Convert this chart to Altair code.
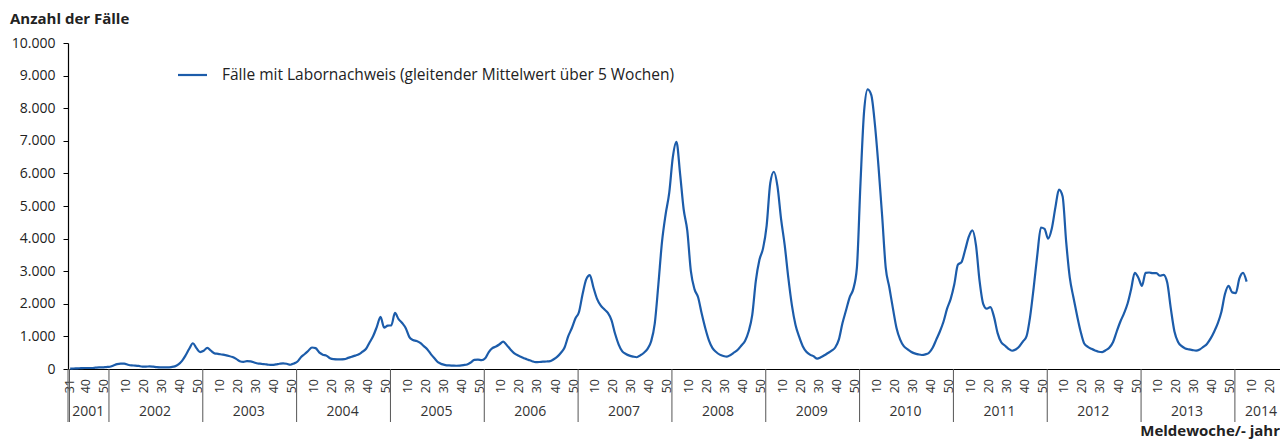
import altair as alt
import pandas as pd

# Weekly values (odd reporting weeks), cases with lab confirmation, 5-week moving average
weeks_2001 = [31, 33, 35, 37, 39, 41, 43, 45, 47, 49, 51]
y2001 = [10, 15, 20, 25, 30, 30, 30, 40, 50, 50, 60]
weeks_odd = list(range(1, 52, 2))
y2002 = [70, 110, 150, 165, 165, 130, 110, 105, 95, 75, 75, 80, 70, 55, 50, 50, 50, 60, 80, 140, 250, 420, 620, 790, 640, 520]
y2003 = [560, 650, 560, 480, 465, 445, 425, 400, 365, 310, 240, 220, 240, 235, 200, 170, 160, 145, 130, 125, 140, 160, 175, 160, 130, 170]
y2004 = [230, 370, 460, 560, 660, 640, 510, 440, 410, 330, 300, 295, 295, 300, 340, 375, 410, 450, 530, 620, 820, 1020, 1300, 1600, 1270, 1330]
y2005 = [1340, 1720, 1530, 1410, 1250, 980, 890, 860, 800, 700, 600, 450, 320, 200, 150, 120, 110, 105, 100, 105, 120, 140, 200, 280, 290, 270]
y2006 = [330, 520, 640, 690, 760, 840, 730, 600, 490, 420, 370, 320, 280, 240, 210, 215, 225, 230, 240, 300, 380, 500, 660, 1000, 1250, 1550]
y2007 = [1750, 2300, 2750, 2880, 2500, 2150, 1950, 1830, 1720, 1500, 1080, 750, 540, 460, 410, 380, 360, 420, 500, 620, 850, 1400, 2600, 3900, 4740, 5400]
y2008 = [6500, 6970, 6000, 4900, 4250, 3000, 2450, 2200, 1700, 1250, 880, 640, 520, 440, 400, 380, 430, 510, 590, 720, 860, 1150, 1650, 2700, 3350, 3700]
y2009 = [4400, 5700, 6050, 5600, 4600, 3800, 2800, 1950, 1350, 990, 700, 530, 440, 390, 320, 360, 420, 490, 560, 660, 900, 1400, 1800, 2200, 2450, 3100]
y2010 = [5700, 7900, 8580, 8400, 7500, 6200, 4700, 3100, 2500, 1850, 1250, 900, 700, 610, 530, 480, 450, 430, 450, 500, 650, 900, 1150, 1450, 1850, 2150]
y2011 = [2600, 3200, 3280, 3650, 4050, 4250, 3800, 2700, 2000, 1850, 1900, 1600, 1100, 820, 720, 620, 560, 600, 690, 840, 1000, 1600, 2500, 3500, 4340, 4300]
y2012 = [4000, 4300, 4950, 5500, 5300, 3900, 2800, 2200, 1650, 1150, 780, 680, 620, 570, 530, 520, 580, 660, 830, 1150, 1450, 1700, 2000, 2450, 2950, 2800]
y2013 = [2550, 2950, 2960, 2940, 2940, 2860, 2890, 2650, 1850, 1150, 830, 700, 630, 600, 580, 565, 600, 680, 770, 930, 1145, 1400, 1750, 2300, 2550, 2350]
weeks_2014 = [1, 3, 5, 7]
y2014 = [2330, 2780, 2950, 2680]

years = list(range(2001, 2015))
week_ticks = [10, 20, 30, 40, 50]
series_name = "Fälle mit Labornachweis (gleitender Mittelwert über 5 Wochen)"
y_title = "Anzahl der Fälle"
x_title = "Meldewoche/- jahr"

LINE = "#1c5caa"
FONT = "Open Sans"


def t_of(year, week):
    if year == 2001:
        return week - 31
    return 22 + 52 * (year - 2002) + (week - 1)


rows = []
for w, v in zip(weeks_2001, y2001):
    rows.append({"t": t_of(2001, w), "v": v})
for yr, vals in zip(range(2002, 2014), [y2002, y2003, y2004, y2005, y2006, y2007, y2008,
                                         y2009, y2010, y2011, y2012, y2013]):
    for w, v in zip(weeks_odd, vals):
        rows.append({"t": t_of(yr, w), "v": v})
for w, v in zip(weeks_2014, y2014):
    rows.append({"t": t_of(2014, w), "v": v})
df = pd.DataFrame(rows)

# week tick labels (year, week)
wk = [(2001, 31), (2001, 40), (2001, 50)]
for yr in range(2002, 2014):
    wk += [(yr, w) for w in week_ticks]
wk += [(2014, 10), (2014, 20)]
week_df = pd.DataFrame({"t": [t_of(y, w) for y, w in wk], "label": [str(w) for _, w in wk]})

sep_df = pd.DataFrame({"t": [-1.2, -0.4] + [t_of(yr, 1) - 0.5 for yr in range(2002, 2015)]})
ylab_t = [10] + [t_of(yr, 26) for yr in range(2002, 2014)] + [t_of(2014, 15)]
year_df = pd.DataFrame({"t": ylab_t, "label": [str(y) for y in years]})

W, H = 1212, 326
xscale = alt.Scale(domain=[-1.2, 670.5], nice=False, zero=False)

line = alt.Chart(df).mark_line(color=LINE, strokeWidth=2.2, interpolate="monotone").encode(
    x=alt.X("t:Q", scale=xscale, axis=alt.Axis(
        labels=False, ticks=False, grid=False, title=None,
        domainColor="#000", domainWidth=1.2)),
    y=alt.Y("v:Q", scale=alt.Scale(domain=[0, 10000], nice=False), axis=alt.Axis(
        values=list(range(0, 10001, 1000)), grid=False, title=None,
        labelExpr="replace(format(datum.value, ','), ',', '.')",
        labelFontSize=14, labelFont=FONT, labelColor="#222",
        tickSize=5, tickColor="#000", labelPadding=8,
        domainColor="#000", domainWidth=1.2)),
)

week_text = alt.Chart(week_df).mark_text(
    font=FONT, fontSize=12.5, color="#333", angle=270, align="right", baseline="middle"
).encode(x=alt.X("t:Q", scale=xscale), y=alt.value(H + 10), text="label:N")

seps = alt.Chart(sep_df).mark_rule(color="#555", strokeWidth=1).encode(
    x=alt.X("t:Q", scale=xscale), y=alt.value(H), y2=alt.value(H + 53))

year_text = alt.Chart(year_df).mark_text(
    font=FONT, fontSize=14, color="#333", baseline="middle", align="center"
).encode(x=alt.X("t:Q", scale=xscale), y=alt.value(H + 43), text="label:N")

ytitle = alt.Chart(pd.DataFrame({"s": [y_title]})).mark_text(
    font=FONT, fontSize=15, fontWeight="bold", color="#222", align="left", baseline="middle"
).encode(x=alt.value(-58), y=alt.value(-24), text="s:N")

xtitle = alt.Chart(pd.DataFrame({"s": [x_title]})).mark_text(
    font=FONT, fontSize=15, fontWeight="bold", color="#222", align="right", baseline="middle"
).encode(x=alt.value(1212), y=alt.value(H + 62), text="s:N")

leg_line = alt.Chart(pd.DataFrame({"s": [series_name]})).mark_rule(
    color=LINE, strokeWidth=2.2
).encode(x=alt.value(110), x2=alt.value(139), y=alt.value(32))

leg_text = alt.Chart(pd.DataFrame({"s": [series_name]})).mark_text(
    font=FONT, fontSize=15.5, color="#222", align="left", baseline="middle"
).encode(x=alt.value(154), y=alt.value(32), text="s:N")

chart = alt.layer(line, week_text, seps, year_text, ytitle, xtitle, leg_line, leg_text).properties(
    width=W, height=H,
    autosize=alt.AutoSizeParams(type="none"),
    padding={"left": 60, "top": 35, "right": 0, "bottom": 70},
).configure_view(stroke=None)

chart.save("out.html", embed_options={"renderer": "svg", "actions": False})
